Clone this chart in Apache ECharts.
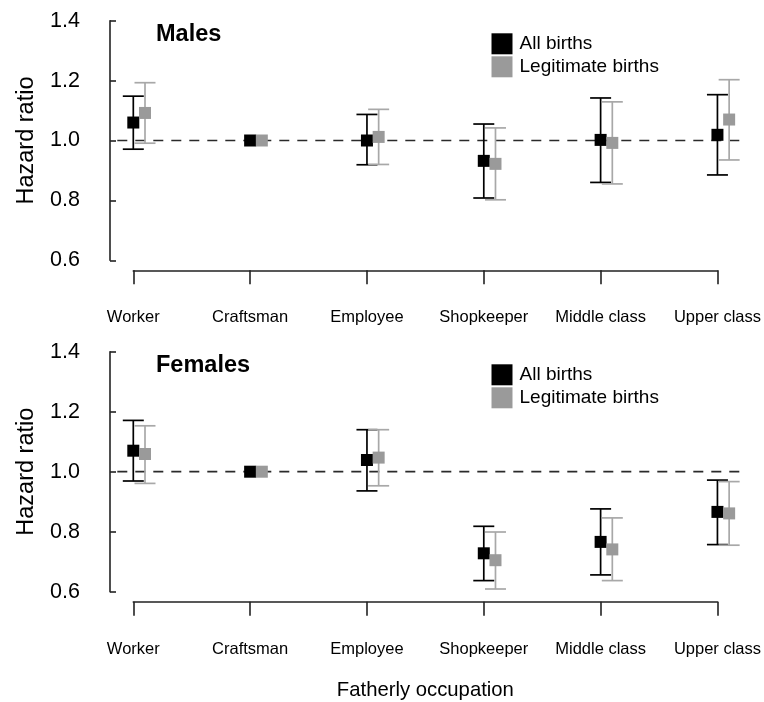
<!DOCTYPE html>
<html>
<head>
<meta charset="utf-8">
<script src="https://cdn.jsdelivr.net/npm/echarts@6/dist/echarts.min.js"></script>
<style>
html,body{margin:0;padding:0;background:#fff;}
#chart{width:764px;height:702px;}
</style>
</head>
<body>
<div id="chart"></div>
<script>
// ---- data ----
const categories = ['Worker', 'Craftsman', 'Employee', 'Shopkeeper', 'Middle class', 'Upper class'];
const seriesNames = ['All births', 'Legitimate births'];
const referenceValue = 1.0;

// Males
const malesAllHR  = [1.060, 1.000, 1.000, 0.932, 1.002, 1.019];
const malesAllLo  = [0.971, null,  0.919, 0.808, 0.860, 0.885];
const malesAllHi  = [1.148, null,  1.087, 1.055, 1.142, 1.153];
const malesLegHR  = [1.092, 1.000, 1.012, 0.922, 0.992, 1.070];
const malesLegLo  = [0.991, null,  0.920, 0.802, 0.855, 0.935];
const malesLegHi  = [1.193, null,  1.104, 1.042, 1.129, 1.203];

// Females
const femalesAllHR = [1.070, 1.000, 1.039, 0.728, 0.766, 0.866];
const femalesAllLo = [0.969, null,  0.936, 0.637, 0.656, 0.757];
const femalesAllHi = [1.171, null,  1.140, 0.818, 0.876, 0.972];
const femalesLegHR = [1.059, 1.000, 1.047, 0.705, 0.741, 0.861];
const femalesLegLo = [0.961, null,  0.953, 0.609, 0.637, 0.755];
const femalesLegHi = [1.153, null,  1.140, 0.799, 0.846, 0.967];

// ---- styling ----
const FONT = '"Liberation Sans", Arial, Helvetica, sans-serif';
const BLACK = '#000000';
const GREY = '#9a9a9a';
const GREY_LINE = '#a8a8a8';
const AXIS = '#222222';

function rows(hr, lo, hi) {
  return hr.map((v, i) => [i, v, lo[i] == null ? NaN : lo[i], hi[i] == null ? NaN : hi[i]]);
}

function errorSeries(name, gridIdx, data, color, lineColor, dodge) {
  return {
    name: name,
    type: 'custom',
    xAxisIndex: gridIdx,
    yAxisIndex: gridIdx,
    itemStyle: { color: color },
    encode: { x: 0, y: 1 },
    clip: false,
    z: 3,
    data: data,
    renderItem: function (params, api) {
      const x = api.value(0);
      const hr = api.value(1);
      const lo = api.value(2);
      const hi = api.value(3);
      const c = api.coord([x, hr]);
      const px = c[0] + dodge;
      const children = [];
      const capHalf = 10.5;
      const ls = { stroke: lineColor, lineWidth: 1.7 };
      if (!isNaN(lo) && !isNaN(hi)) {
        const yl = api.coord([x, lo])[1];
        const yh = api.coord([x, hi])[1];
        children.push({ type: 'line', shape: { x1: px, y1: yl, x2: px, y2: yh }, style: ls });
        children.push({ type: 'line', shape: { x1: px - capHalf, y1: yl, x2: px + capHalf, y2: yl }, style: ls });
        children.push({ type: 'line', shape: { x1: px - capHalf, y1: yh, x2: px + capHalf, y2: yh }, style: ls });
      }
      const s = 12;
      children.push({ type: 'rect', shape: { x: px - s / 2, y: c[1] - s / 2, width: s, height: s }, style: { fill: color } });
      return { type: 'group', children: children };
    }
  };
}

function refSeries(gridIdx) {
  return {
    name: 'ref' + gridIdx,
    type: 'custom',
    xAxisIndex: gridIdx,
    yAxisIndex: gridIdx,
    silent: true,
    clip: false,
    z: 1,
    encode: { x: 0, y: 1 },
    data: [[0, referenceValue]],
    renderItem: function (params, api) {
      const cs = params.coordSys;
      const y = api.coord([0, api.value(1)])[1];
      return {
        type: 'line',
        shape: { x1: cs.x - 16, y1: y, x2: cs.x + cs.width + 22, y2: y },
        style: { stroke: '#2a2a2a', lineWidth: 1.7, lineDash: [10, 8] }
      };
    }
  };
}

function xAxisCfg(gridIdx, withName) {
  const a = {
    type: 'value',
    gridIndex: gridIdx,
    min: 0,
    max: categories.length - 1,
    interval: 1,
    offset: 10,
    splitLine: { show: false },
    axisLine: { show: true, onZero: false, lineStyle: { color: AXIS, width: 1.6 } },
    axisTick: { show: true, inside: false, length: 14, lineStyle: { color: AXIS, width: 1.6 } },
    axisLabel: {
      margin: 39,
      fontSize: 16.5,
      color: '#000',
      fontFamily: FONT,
      formatter: function (v) { return categories[v] || ''; }
    }
  };
  if (withName) {
    a.name = 'Fatherly occupation';
    a.nameLocation = 'middle';
    a.nameGap = 79;
    a.nameTextStyle = { fontSize: 20.3, color: '#000', fontFamily: FONT };
  }
  return a;
}

function yAxisCfg(gridIdx) {
  return {
    type: 'value',
    gridIndex: gridIdx,
    min: 0.6,
    max: 1.4,
    interval: 0.2,
    offset: 23.3,
    name: 'Hazard ratio',
    nameLocation: 'middle',
    nameGap: 71,
    nameTextStyle: { fontSize: 23.5, color: '#000', fontFamily: FONT },
    splitLine: { show: false },
    axisLine: { show: true, onZero: false, lineStyle: { color: AXIS, width: 1.6 } },
    axisTick: { show: true, inside: true, length: 6, lineStyle: { color: AXIS, width: 1.6 } },
    axisLabel: {
      margin: 30,
      fontSize: 21.5,
      color: '#000',
      fontFamily: FONT,
      formatter: function (v) { return v.toFixed(1); }
    }
  };
}

function legendCfg(top) {
  return {
    data: seriesNames,
    orient: 'vertical',
    left: 491.5,
    top: top,
    padding: 0,
    itemWidth: 21,
    itemHeight: 21,
    itemGap: 2,
    icon: 'rect',
    selectedMode: false,
    textStyle: { fontSize: 19, color: '#000', fontFamily: FONT, padding: [0, 0, 0, 2] }
  };
}

const chart = echarts.init(document.getElementById('chart'), null, { renderer: 'canvas' });
chart.setOption({
  backgroundColor: '#ffffff',
  animation: false,
  title: [
    { text: 'Males', left: 156, top: 23, padding: 0, textStyle: { fontSize: 23.5, fontWeight: 'bold', color: '#000', fontFamily: FONT } },
    { text: 'Females', left: 156, top: 354, padding: 0, textStyle: { fontSize: 23.5, fontWeight: 'bold', color: '#000', fontFamily: FONT } }
  ],
  legend: [legendCfg(33.3), legendCfg(364.3)],
  grid: [
    { left: 133.3, right: 44, top: 20.7, height: 239.6 },
    { left: 133.3, right: 44, top: 351.7, height: 240 }
  ],
  xAxis: [xAxisCfg(0, false), xAxisCfg(1, true)],
  yAxis: [yAxisCfg(0), yAxisCfg(1)],
  series: [
    refSeries(0),
    refSeries(1),
    errorSeries(seriesNames[0], 0, rows(malesAllHR, malesAllLo, malesAllHi), BLACK, BLACK, 0),
    errorSeries(seriesNames[1], 0, rows(malesLegHR, malesLegLo, malesLegHi), GREY, GREY_LINE, 11.7),
    errorSeries(seriesNames[0], 1, rows(femalesAllHR, femalesAllLo, femalesAllHi), BLACK, BLACK, 0),
    errorSeries(seriesNames[1], 1, rows(femalesLegHR, femalesLegLo, femalesLegHi), GREY, GREY_LINE, 11.7)
  ]
});
</script>
</body>
</html>
